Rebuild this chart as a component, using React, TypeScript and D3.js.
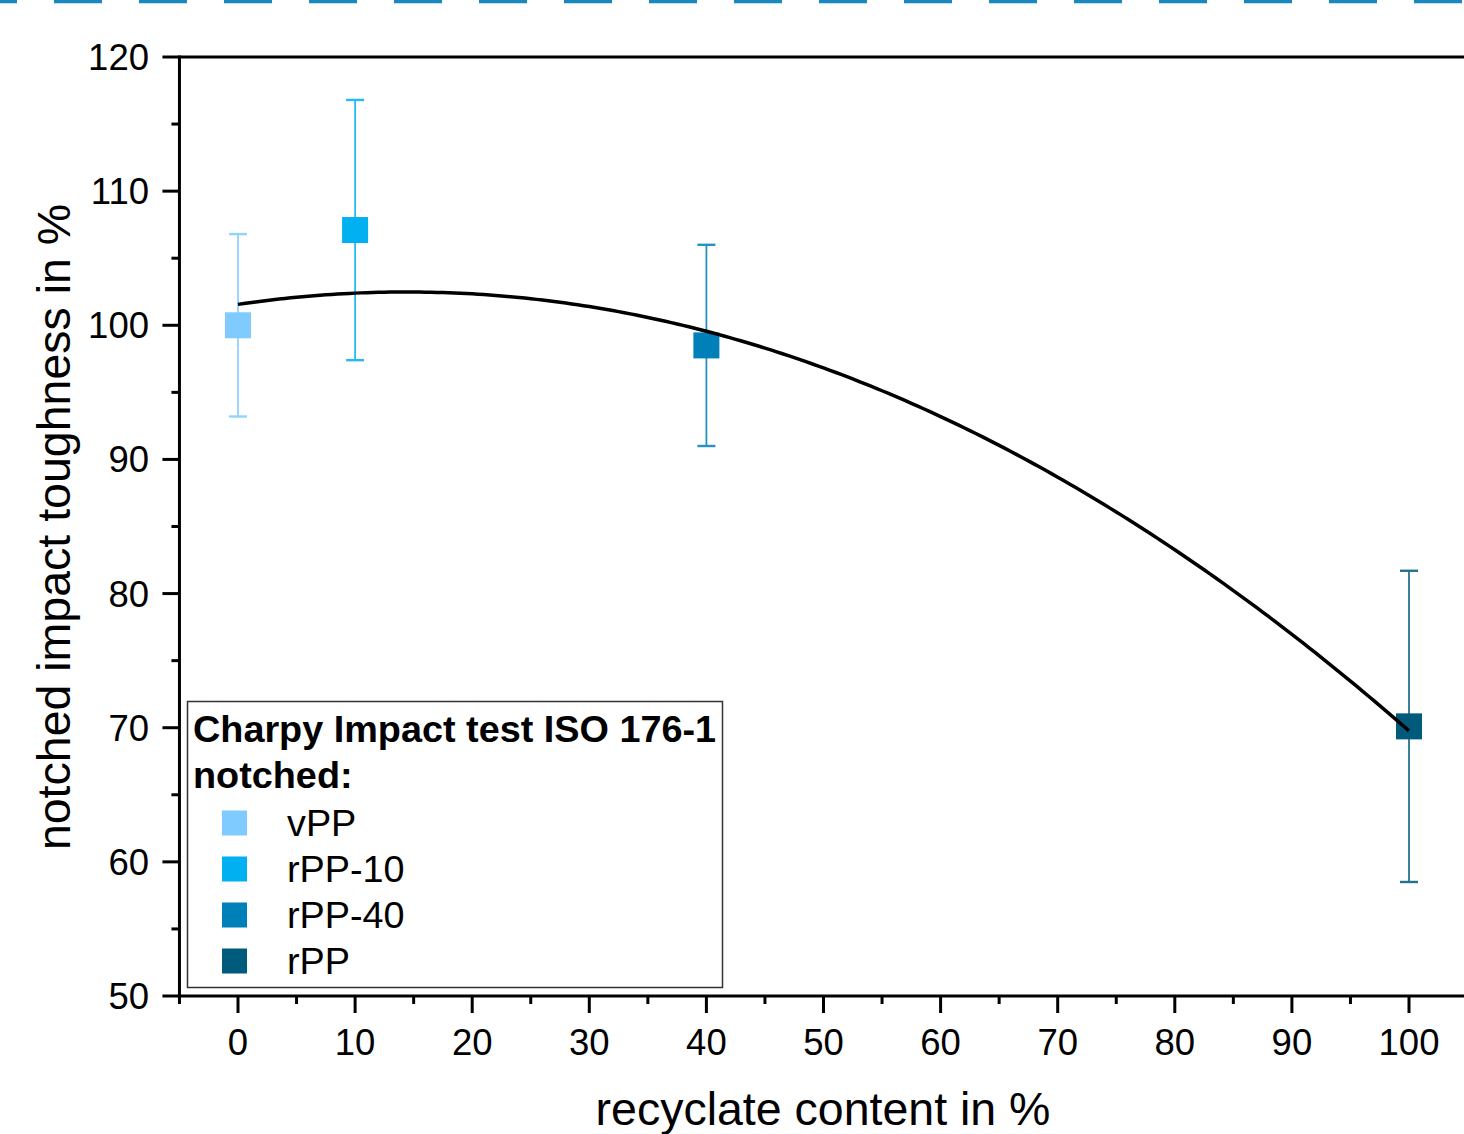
import React from "react";
import * as d3 from "d3";

// Charpy notched impact toughness relative to virgin PP, vs. recycled content
const sampleNames = ["vPP", "rPP-10", "rPP-40", "rPP"];
const recyclateContent = [0, 10, 40, 100];
const toughness = [100, 107.1, 98.5, 70.1];
const toughnessError = [6.8, 9.7, 7.5, 11.6];
const sampleColors = ["#7fcbff", "#00b0f0", "#0080b8", "#005a7b"];

const xTicks = [0, 10, 20, 30, 40, 50, 60, 70, 80, 90, 100];
const yTicks = [50, 60, 70, 80, 90, 100, 110, 120];

const legendTitle = ["Charpy Impact test ISO 176-1", "notched:"];
const xLabel = "recyclate content in %";
const yLabel = "notched impact toughness in %";

const W = 1464;
const H = 1134;
const FONT = "'Liberation Sans', Arial, Helvetica, sans-serif";

// Weighted (1/σ²) least-squares quadratic fit
function weightedQuadFit(xs: number[], ys: number[], sig: number[]) {
  const S = [0, 0, 0, 0, 0];
  const T = [0, 0, 0];
  xs.forEach((x, i) => {
    const w = 1 / (sig[i] * sig[i]);
    for (let k = 0; k < 5; k++) S[k] += w * Math.pow(x, k);
    for (let k = 0; k < 3; k++) T[k] += w * Math.pow(x, k) * ys[i];
  });
  const A = [
    [S[0], S[1], S[2], T[0]],
    [S[1], S[2], S[3], T[1]],
    [S[2], S[3], S[4], T[2]],
  ];
  for (let c = 0; c < 3; c++) {
    let p = c;
    for (let r = c + 1; r < 3; r++) if (Math.abs(A[r][c]) > Math.abs(A[p][c])) p = r;
    [A[c], A[p]] = [A[p], A[c]];
    for (let r = 0; r < 3; r++) {
      if (r === c) continue;
      const f = A[r][c] / A[c][c];
      for (let k = c; k < 4; k++) A[r][k] -= f * A[c][k];
    }
  }
  return [A[0][3] / A[0][0], A[1][3] / A[1][1], A[2][3] / A[2][2]];
}

export default function App() {
  const x = d3.scaleLinear().domain([0, 100]).range([238, 1409]);
  const y = d3.scaleLinear().domain([50, 120]).range([996, 57]);
  const x0 = x(-5);
  const xEnd = x(110);
  const yBottom = y(50);
  const yTop = y(120);

  const xMinor = d3.range(-5, 110, 5).filter((v) => v % 10 !== 0);
  const yMinor = d3.range(55, 120, 10);

  const [a, b, c] = weightedQuadFit(recyclateContent, toughness, toughnessError);
  const fitX = d3.range(0, 100.01, 0.5);
  const fitLine = d3
    .line<number>()
    .x((v) => x(v))
    .y((v) => y(a + b * v + c * v * v))
    .curve(d3.curveLinear);

  const sq = 26;
  const cap = 9;

  return (
    <svg
      width={W}
      height={H}
      style={{ position: "absolute", left: 0, top: 0, background: "#fff" }}
      fontFamily={FONT}
    >
      <rect x={0} y={0} width={W} height={H} fill="#fff" />
      {/* dashed band along the top edge */}
      <line
        x1={0}
        x2={W}
        y1={1.5}
        y2={1.5}
        stroke="#1a88bf"
        strokeWidth={3.5}
        strokeDasharray="48 37"
        strokeDashoffset={31}
      />

      {/* error bars */}
      {recyclateContent.map((v, i) => {
        const cx = x(v);
        const yHi = y(toughness[i] + toughnessError[i]);
        const yLo = y(toughness[i] - toughnessError[i]);
        return (
          <g key={"err" + i} stroke={sampleColors[i]} strokeWidth={1.8} opacity={0.85}>
            <line x1={cx} x2={cx} y1={yHi} y2={yLo} />
            <line x1={cx - cap} x2={cx + cap} y1={yHi} y2={yHi} strokeWidth={2.4} />
            <line x1={cx - cap} x2={cx + cap} y1={yLo} y2={yLo} strokeWidth={2.4} />
          </g>
        );
      })}

      {/* markers */}
      {recyclateContent.map((v, i) => (
        <rect
          key={"pt" + i}
          x={x(v) - sq / 2}
          y={y(toughness[i]) - sq / 2}
          width={sq}
          height={sq}
          fill={sampleColors[i]}
        />
      ))}

      {/* quadratic fit */}
      <path d={fitLine(fitX) || ""} fill="none" stroke="#000" strokeWidth={3.5} />

      {/* frame */}
      <line x1={x0} x2={xEnd} y1={yTop} y2={yTop} stroke="#000" strokeWidth={3} />
      <line x1={x0} x2={xEnd} y1={yBottom} y2={yBottom} stroke="#000" strokeWidth={3} />
      <line x1={x0} x2={x0} y1={yTop - 1.5} y2={yBottom + 1.5} stroke="#000" strokeWidth={3} />

      {/* x ticks */}
      {xTicks.map((t) => (
        <g key={"xt" + t}>
          <line x1={x(t)} x2={x(t)} y1={yBottom} y2={yBottom + 17} stroke="#000" strokeWidth={3} />
          <text x={x(t)} y={yBottom + 59} fontSize={36.5} textAnchor="middle" fill="#000">
            {t}
          </text>
        </g>
      ))}
      {xMinor.map((t) => (
        <line key={"xm" + t} x1={x(t)} x2={x(t)} y1={yBottom} y2={yBottom + 8} stroke="#000" strokeWidth={3} />
      ))}

      {/* y ticks */}
      {yTicks.map((t) => (
        <g key={"yt" + t}>
          <line x1={x0 - 17} x2={x0} y1={y(t)} y2={y(t)} stroke="#000" strokeWidth={3} />
          <text x={149} y={y(t) + 13} fontSize={36.5} textAnchor="end" fill="#000">
            {t}
          </text>
        </g>
      ))}
      {yMinor.map((t) => (
        <line key={"ym" + t} x1={x0 - 8} x2={x0} y1={y(t)} y2={y(t)} stroke="#000" strokeWidth={3} />
      ))}

      {/* axis titles */}
      <text x={823} y={1125} fontSize={46.5} textAnchor="middle" fill="#000">
        {xLabel}
      </text>
      <text
        transform={`translate(70, 527) rotate(-90)`}
        fontSize={46.5}
        textAnchor="middle"
        fill="#000"
      >
        {yLabel}
      </text>

      {/* legend */}
      <rect x={187.5} y={701.5} width={535} height={286} fill="#fff" stroke="#333" strokeWidth={1.5} />
      <text x={193} y={742} fontSize={37.8} fontWeight="bold" fill="#000">
        {legendTitle[0]}
      </text>
      <text x={193} y={788} fontSize={37.8} fontWeight="bold" fill="#000">
        {legendTitle[1]}
      </text>
      {sampleNames.map((n, i) => {
        const cy = 823 + i * 46;
        return (
          <g key={"lg" + i}>
            <rect x={222} y={cy - 12.5} width={25} height={25} fill={sampleColors[i]} />
            <text x={287} y={cy + 13} fontSize={37.8} fill="#000">
              {n}
            </text>
          </g>
        );
      })}
    </svg>
  );
}
